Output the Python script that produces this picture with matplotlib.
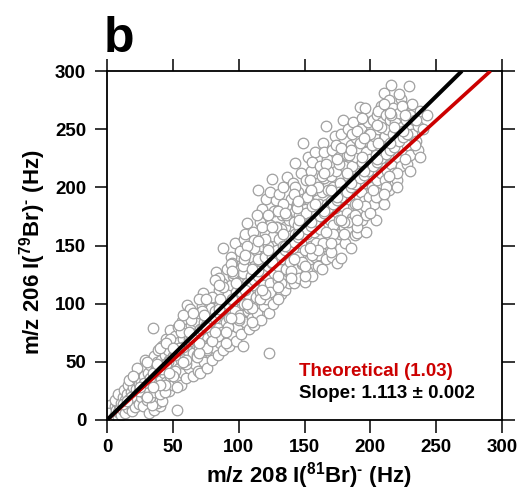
import numpy as np
import matplotlib
matplotlib.use('Agg')
import matplotlib.pyplot as plt

# --- data (Hz) ---
x_208 = [
    0.5, 1, 2, 2, 3, 3, 4, 4, 5, 5, 1, 2, 0.5,
    6, 6, 7, 7, 8, 8, 9, 9, 10, 10, 6, 8,
    11, 11, 12, 12, 13, 13, 14, 14, 15, 15, 16, 16, 17, 18, 18, 19, 19, 20, 20, 17,
    21, 21, 22, 22, 23, 24, 24, 25, 25, 26, 26, 27, 27, 28, 28, 29, 30, 30, 29, 23,
    32, 36, 40, 38, 42, 34,
    31, 31, 32, 33, 33, 34, 35, 35, 36, 36, 37, 38, 38, 39, 39, 40, 40, 37,
    41, 41, 42, 42, 43, 43, 44, 45, 45, 45, 46, 46, 47, 47, 48, 48, 49, 49, 50, 50, 44,
    51, 51, 52, 52, 53, 53, 54, 54, 55, 55, 56, 56, 57, 57, 58, 58, 59, 59, 60, 60, 53,
    61, 61, 62, 62, 63, 63, 64, 64, 65, 65, 66, 66, 67, 67, 68, 68, 69, 69, 70, 70, 63,
    71, 71, 72, 72, 73, 73, 74, 74, 75, 75, 76, 76, 77, 77, 78, 78, 79, 79, 80, 80, 76,
    81, 81, 82, 82, 83, 83, 84, 84, 85, 85, 86, 86, 87, 87, 88, 88, 89, 89, 90, 90, 85,
    91, 91, 92, 92, 93, 93, 94, 94, 95, 95, 96, 96, 97, 97, 98, 98, 99, 99, 100, 100, 95,
    101, 101, 102, 102, 103, 103, 104, 104, 105, 105, 106, 106, 107, 107, 108, 108, 109, 109, 110, 110, 105, 103,
    111, 111, 112, 112, 113, 113, 114, 114, 115, 115, 116, 116, 117, 117, 118, 118, 119, 119, 120, 120, 114, 112,
    121, 121, 122, 122, 123, 123, 124, 124, 125, 125, 126, 126, 127, 127, 128, 128, 129, 129, 130, 130, 124, 122,
    131, 131, 132, 132, 133, 133, 134, 134, 135, 135, 136, 136, 137, 137, 138, 138, 139, 139, 140, 140, 134, 132,
    141, 141, 142, 142, 143, 143, 144, 144, 145, 145, 146, 146, 147, 147, 148, 148, 149, 149, 150, 150, 145, 143,
    151, 151, 152, 152, 153, 153, 154, 154, 155, 155, 156, 156, 157, 157, 158, 158, 159, 159, 160, 160, 154, 156,
    161, 161, 162, 162, 163, 163, 164, 164, 165, 165, 166, 166, 167, 167, 168, 168, 169, 169, 170, 170, 165, 163,
    171, 171, 172, 172, 173, 173, 174, 174, 175, 175, 176, 176, 177, 177, 178, 178, 179, 179, 180, 180, 174, 176,
    181, 181, 182, 182, 183, 183, 184, 184, 185, 185, 186, 186, 187, 187, 188, 188, 189, 189, 190, 190, 183, 186,
    191, 191, 192, 192, 193, 193, 194, 194, 195, 195, 196, 196, 197, 197, 198, 198, 199, 199, 200, 200, 194, 197,
    201, 201, 202, 202, 203, 203, 204, 204, 205, 205, 206, 206, 207, 207, 208, 208, 209, 209, 210, 210, 204, 206,
    211, 211, 212, 212, 213, 213, 214, 214, 215, 215, 216, 216, 217, 217, 218, 218, 219, 220, 220, 214,
    221, 221, 222, 222, 223, 223, 224, 225, 225, 226, 227, 228, 229, 229, 230, 230,
    232, 232, 234, 235, 236, 238, 240, 243, 236,
    # interior of the band
    12, 18, 24, 28, 33, 37, 42, 46, 52, 55, 58, 63, 66, 69, 72, 75, 78, 82, 85, 88,
    92, 95, 98, 102, 105, 108, 112, 115, 118, 122, 125, 128, 132, 135, 138, 142, 145, 148, 152, 155,
    158, 162, 165, 168, 172, 175, 178, 182, 185, 188, 192, 195, 198, 202, 205, 208, 212, 215, 218, 222,
    225, 228,
    40, 48, 56, 64, 72, 80, 88, 96, 104, 112, 120, 128, 136, 144, 152, 160, 168, 176, 184, 192,
    200, 208, 216, 224,
    44, 52, 60, 68, 76, 84, 92, 100, 108, 116, 124, 132, 140, 148, 156, 164, 172, 180, 188, 196,
    204, 212, 220, 228,
    58, 70, 82, 94, 106, 118, 130, 142, 154, 166, 178, 190,
    90, 110, 130, 150, 170, 190, 210,
    20, 30, 45, 55, 65, 75, 85, 95, 105, 115, 125, 135, 145, 155, 165, 175, 185, 195, 205, 215,
    222, 210,
    15, 25, 35, 45, 55, 65, 75, 85, 95, 105, 115, 125, 135, 145, 155, 165, 175, 185, 195, 205,
    215, 225, 235,
    30, 40, 50, 60, 70, 80, 90, 100, 110, 120, 130, 140, 150, 160, 170, 180, 190, 200, 210, 220,
    230, 238,
    38, 50, 62, 74, 86, 98, 110, 122, 134, 146, 158, 170, 182, 194, 206, 218, 226,
    35, 47, 58, 70, 82, 94, 106, 118, 130, 142, 154, 166, 178, 190, 202, 214, 226, 234,
]
y_206 = [
    1, 3, 0.5, 5, 2, 8, 4, 11, 1, 7, 9, 13, 6,
    4, 12, 9, 16, 3, 7, 13, 19, 6, 10, 17, 22,
    4, 15, 9, 20, 12, 26, 6, 17, 14, 22, 10, 30, 18, 13, 24, 8, 20, 16, 28, 34,
    11, 22, 27, 36, 18, 14, 31, 24, 42, 20, 33, 12, 28, 38, 46, 22, 30, 17, 52, 45,
    6, 9, 12, 15, 16, 13,
    26, 40, 34, 20, 47, 30, 79, 38, 24, 55, 44, 32, 50, 28, 60, 40, 22, 36,
    35, 52, 46, 64, 28, 40, 56, 33, 48, 70, 42, 60, 25, 52, 77, 38, 46, 66, 55, 30, 24,
    40, 62, 50, 72, 8.5, 35, 58, 80, 45, 67, 30, 52, 62, 85, 40, 70, 55, 48, 78, 36, 28,
    60, 99, 45, 70, 95, 52, 64, 82, 38, 58, 74, 90, 48, 66, 56, 84, 72, 42, 62, 92, 75,
    40, 78, 55, 98, 109, 68, 84, 50, 62, 92, 72, 45, 80, 102, 58, 88, 67, 96, 52, 76, 60,
    85, 105, 62, 94, 127, 70, 56, 80, 98, 112, 66, 88, 76, 118, 148, 60, 92, 104, 70, 84, 122,
    96, 130, 76, 108, 64, 88, 116, 140, 100, 72, 84, 124, 152, 94, 110, 68, 132, 80, 104, 118, 135,
    90, 145, 74, 112, 64, 126, 100, 156, 84, 136, 169, 118, 94, 108, 140, 78, 124, 150, 100, 88, 160, 132,
    162, 116, 82, 130, 106, 146, 92, 122, 198, 138, 110, 170, 86, 128, 181, 150, 98, 116, 140, 160, 176, 155,
    104, 190, 130, 150, 58, 92, 118, 168, 207, 140, 100, 158, 126, 180, 189, 110, 146, 166, 132, 120, 196, 176,
    156, 194, 108, 138, 176, 120, 150, 200, 112, 166, 130, 184, 209, 146, 118, 172, 158, 136, 190, 126, 186, 164,
    148, 204, 118, 170, 221, 160, 130, 186, 140, 196, 122, 176, 212, 152, 134, 164, 238, 190, 119, 146, 168, 200,
    178, 206, 128, 160, 190, 226, 138, 170, 150, 214, 124, 184, 198, 162, 140, 230, 172, 152, 204, 132, 196, 222,
    186, 142, 218, 164, 130, 196, 176, 238, 150, 208, 253, 138, 186, 224, 160, 198, 149, 172, 210, 188, 230, 210,
    140, 232, 200, 168, 182, 244, 156, 214, 135, 192, 226, 172, 160, 204, 139, 246, 258, 184, 218, 166, 236, 196,
    152, 198, 228, 178, 250, 210, 164, 190, 236, 148, 218, 174, 200, 256, 186, 159, 226, 242, 161, 206, 170, 246,
    180, 234, 269, 212, 196, 250, 172, 222, 240, 188, 268, 204, 176, 230, 256, 214, 192, 246, 224, 182, 260, 162,
    236, 200, 258, 216, 186, 244, 228, 172, 262, 206, 195, 250, 222, 238, 212, 270, 190, 256, 281, 230, 196, 266,
    244, 206, 262, 226, 214, 250, 275, 236, 228, 258, 288, 220, 246, 268, 232, 212, 256, 206, 240, 198,
    250, 226, 264, 238, 276, 218, 252, 232, 270, 244, 258, 236, 287, 250, 262, 228,
    272, 246, 258, 240, 253, 266, 250, 262, 232,
    # interior of the band
    14, 20, 25, 32, 36, 42, 44, 50, 56, 60, 63, 68, 72, 74, 78, 82, 84, 88, 92, 95,
    100, 103, 106, 110, 114, 117, 120, 124, 128, 132, 135, 138, 142, 146, 149, 153, 157, 160, 164, 167,
    171, 175, 178, 182, 186, 189, 192, 196, 200, 203, 208, 211, 214, 218, 222, 225, 229, 232, 235, 240,
    243, 246,
    62, 70, 76, 86, 94, 106, 114, 126, 138, 148, 156, 166, 176, 182, 192, 200, 214, 220, 228, 238,
    246, 252, 262, 270,
    30, 42, 48, 54, 62, 72, 80, 86, 96, 104, 110, 118, 128, 136, 142, 152, 160, 170, 176, 184,
    192, 200, 212, 220,
    90, 104, 120, 134, 150, 166, 180, 194, 206, 220, 234, 248,
    66, 84, 104, 124, 144, 166, 186,
    38, 50, 66, 82, 92, 104, 116, 128, 142, 154, 166, 178, 188, 198, 212, 224, 232, 242, 254, 264,
    280, 272,
    16, 28, 40, 48, 62, 70, 80, 95, 104, 112, 128, 136, 150, 160, 170, 180, 192, 204, 214, 224,
    238, 248, 258,
    20, 30, 38, 52, 58, 68, 76, 88, 96, 108, 114, 122, 132, 146, 152, 160, 172, 178, 194, 200,
    214, 226,
    48, 62, 76, 90, 104, 118, 130, 146, 160, 172, 186, 198, 212, 226, 238, 252, 262,
    28, 40, 50, 66, 76, 88, 100, 112, 124, 138, 148, 162, 172, 186, 198, 210, 224, 236,
]

slope_fit = 1.113
slope_err = 0.002
slope_theory = 1.03

plt.rcParams['font.family'] = ['Liberation Sans', 'DejaVu Sans']
plt.rcParams['font.weight'] = 'bold'
plt.rcParams['mathtext.fontset'] = 'custom'
plt.rcParams['mathtext.rm'] = 'Liberation Sans:bold'
plt.rcParams['mathtext.it'] = 'Liberation Sans:bold'
plt.rcParams['mathtext.bf'] = 'Liberation Sans:bold'
plt.rcParams['mathtext.default'] = 'rm'

fig = plt.figure(figsize=(5.21, 5.00), dpi=100)
ax = fig.add_axes([107 / 521, 80 / 500, 395 / 521, 349 / 500])

ax.plot(x_208, y_206, 'o', ms=7.6, mfc='white', mec='#a0a0a0', mew=0.9, ls='none', zorder=2)

# theoretical and fitted lines, drawn up to the top of the axes
for s, c, lw in [(slope_theory, '#cc0000', 2.6), (slope_fit, 'black', 2.9)]:
    xs = np.array([0, 300 / s])
    ax.plot(xs, s * xs, color=c, lw=lw, solid_capstyle='butt', zorder=3)

ax.set_xlim(0, 300)
ax.set_ylim(0, 300)
ax.set_xticks(np.arange(0, 301, 50))
ax.set_yticks(np.arange(0, 301, 50))
ax.tick_params(direction='out', length=9, width=1.1, labelsize=13.5, pad=5,
               top=True, right=True)
ax.tick_params(axis='y', pad=6)
for sp in ax.spines.values():
    sp.set_linewidth(1.3)
for lab in ax.get_xticklabels() + ax.get_yticklabels():
    lab.set_fontweight('bold')

ax.set_xlabel('m/z 208 I($^{81}$Br)$^{\u2010}$ (Hz)', fontsize=16, fontweight='bold')
ax.set_ylabel('m/z 206 I($^{79}$Br)$^{\u2010}$ (Hz)', fontsize=16, fontweight='bold')
ax.xaxis.set_label_coords(0.51, -0.115)
ax.yaxis.set_label_coords(-0.15, 0.48)

ax.text(146, 42, 'Theoretical (%.2f)' % slope_theory, color='#cc0000', fontsize=13.5,
        fontweight='bold', va='center', ha='left')
ax.text(146, 23, 'Slope: %.3f \u00b1 %.3f' % (slope_fit, slope_err), color='black',
        fontsize=13.5, fontweight='bold', va='center', ha='left')

fig.text(104 / 521, (500 - 52) / 500, 'b', fontsize=36, fontweight='bold', va='baseline')

fig.savefig('out.png', dpi=100)
